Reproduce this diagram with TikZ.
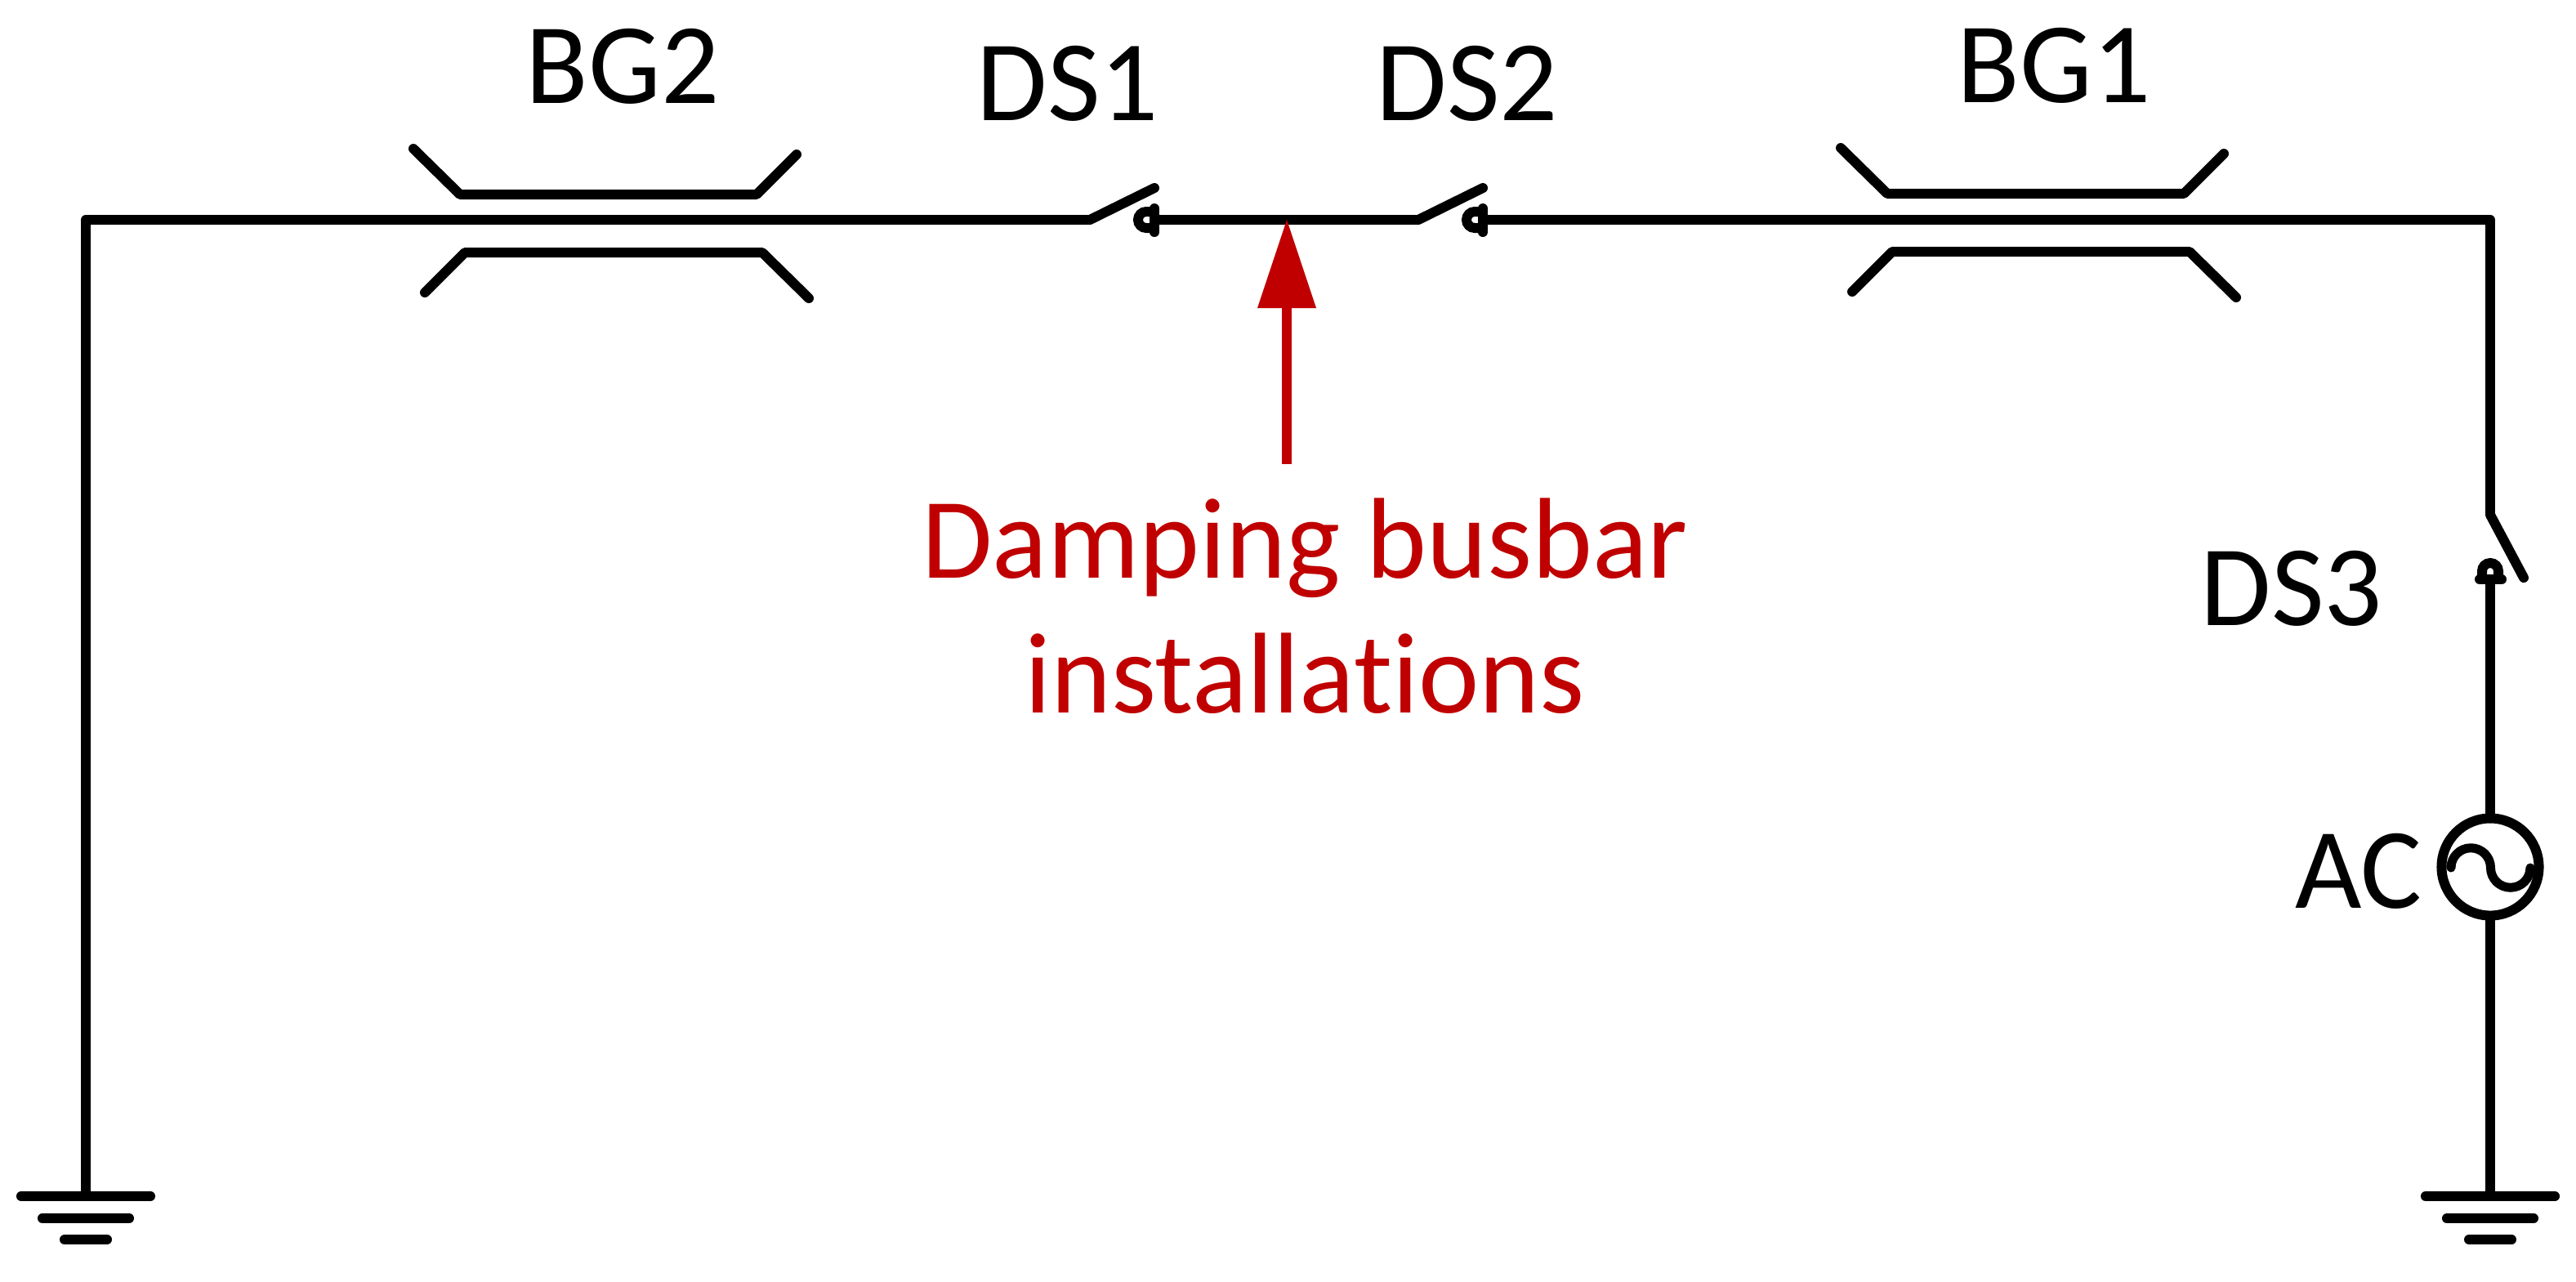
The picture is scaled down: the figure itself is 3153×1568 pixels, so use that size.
\documentclass[tikz,border=0pt]{standalone}
\usepackage{fontspec}
\setmainfont[Ligatures=NoCommon]{Carlito}
\definecolor{dred}{HTML}{C00000}
\tikzset{
  wire/.style={line width=0.12cm,line cap=round,line join=round,black},
  thinwire/.style={line width=0.11cm,line cap=round,line join=round,black},
  lab/.style={inner sep=0pt,font=\fontsize{40}{47}\selectfont,black},
  redlab/.style={lab,text=dred,align=center},
}
\newcommand{\gnd}[1]{%
  \draw[wire] ([xshift=-0.79cm]#1) -- ([xshift=0.79cm]#1);
  \draw[wire] ([xshift=-0.53cm,yshift=-0.27cm]#1) -- ([xshift=0.53cm,yshift=-0.27cm]#1);
  \draw[wire] ([xshift=-0.26cm,yshift=-0.53cm]#1) -- ([xshift=0.26cm,yshift=-0.53cm]#1);
}
\newcommand{\capbank}[2]{% x offset, y offset
  \begin{scope}[shift={(#1,#2)}]
    \draw[wire] (506,182) -- (563,238) -- (926,238) -- (975,189);
    \draw[wire] (520,358) -- (569,309) -- (933,309) -- (990,365);
  \end{scope}
}
\newcommand{\hswitch}[1]{% #1 = contact x; blade + dome contact
  \draw[wire] (#1-79,269) -- (#1,230);
  \draw[wire] (#1,255) -- (#1,284);
  \draw[line width=0.12cm,black] (#1,259) -- (#1-10,259) arc[start angle=270,end angle=90,radius=10] -- (#1,279);
}
\begin{document}
\begin{tikzpicture}[x=0.01cm,y=-0.01cm]
\useasboundingbox (0,0) rectangle (3153,1568);
% named points
\coordinate (gl) at (105,1464);
\coordinate (tl) at (105,269);
\coordinate (s1a) at (1334,269);
\coordinate (s1b) at (1413,269);
\coordinate (s2a) at (1737,269);
\coordinate (s2b) at (1815,269);
\coordinate (tr) at (3048,269);
\coordinate (s3a) at (3048,630);
\coordinate (s3b) at (3048,709);
\coordinate (gr) at (3048,1464);
\coordinate (atip) at (1575,269);
\coordinate (abase) at (1575,377);
\coordinate (aend) at (1575,568);
% source
\node[circle,draw,line width=0.12cm,minimum size=1.19cm,inner sep=0pt,outer sep=0pt] (ac) at (3048,1061) {};
% wires
\draw[wire,line cap=butt] (gl) -- (tl) -- (s1a);
\draw[wire,line cap=butt] (s1b) -- (s2a);
\draw[wire,line cap=butt] (s2b) -- (tr) -- (s3a);
\draw[wire] (s3a) -- (3089,707);
\draw[wire,line cap=butt] (s3b) -- (ac.north);
\draw[wire,line cap=butt] (ac.south) -- (gr);
% sine
\draw[thinwire] (3000,1062) arc[start angle=180,end angle=360,radius=24.25] arc[start angle=180,end angle=0,radius=24.25];
% gas-gap groups
\capbank{0}{0}
\capbank{1747}{-1}
% switches
\hswitch{1413}
\hswitch{1815}
\draw[wire] (3035,709) -- (3062,709);
\draw[line width=0.12cm,black] (3038,709) -- (3038,699) arc[start angle=180,end angle=360,radius=10] -- (3058,709);
% grounds
\gnd{gl}
\gnd{gr}
% arrow
\draw[line width=0.12cm,dred] (aend) -- (abase);
\fill[dred] (atip) -- (1611,377) -- (1539,377) -- cycle;
% labels
\node[lab] (bg2) at (762,81) {BG2};
\node[lab] (ds1) at (1307,102) {DS1};
\node[lab] (ds2) at (1796,102) {DS2};
\node[lab] (bg1) at (2514,80) {BG1};
\node[lab] (ds3) at (2805,720) {DS3};
\node[lab] (aclab) at (2887,1066) {AC};
\node[redlab] (dmp) at (1597,742) {Damping busbar\\installations};
\end{tikzpicture}
\end{document}
